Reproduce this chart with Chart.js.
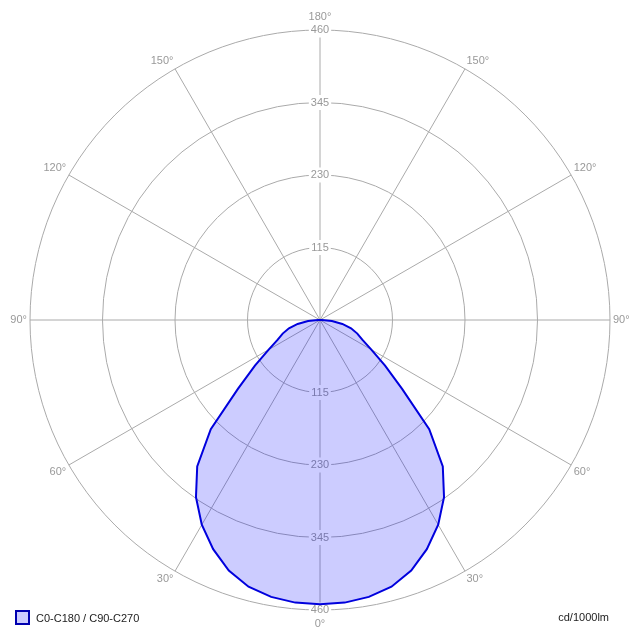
<!DOCTYPE html>
<html>
<head>
<meta charset="utf-8">
<title>Luminous intensity distribution</title>
<script src="https://cdn.jsdelivr.net/npm/chart.js@4.4.1/dist/chart.umd.min.js"></script>
<style>
  body { margin: 0; background: #fff; }
  #wrap { position: relative; width: 640px; height: 640px; font-family: "Liberation Sans", Arial, sans-serif; font-size: 11px; color: #222; }
  #legend { position: absolute; left: 15px; top: 610px; display: flex; align-items: center; line-height: 14px; }
  #legend .box { width: 11px; height: 11px; border: 2px solid #0000b0; background: #ccccff; margin-right: 6px; }
  #unit { position: absolute; right: 31px; top: 610px; line-height: 14px; }
</style>
</head>
<body>
<div id="wrap">
  <canvas id="polar" width="640" height="640"></canvas>
  <div id="legend"><span class="box"></span>C0-C180 / C90-C270</div>
  <div id="unit">cd/1000lm</div>
</div>
<script>
// gamma angles (deg) and intensity in cd/1000lm, same for C0-C180 and C90-C270
const gammaAngles = [0, 5, 10, 15, 20, 25, 30, 35, 40, 45, 50, 55, 60, 65, 70, 75, 80, 85, 90,
  95, 100, 105, 110, 115, 120, 125, 130, 135, 140, 145, 150, 155, 160, 165, 170, 175, 180];
const intensity = [451, 450, 446, 438, 423, 401, 375, 343, 303, 245, 170, 126, 94, 74, 63, 51, 36, 19, 3,
  0, 0, 0, 0, 0, 0, 0, 0, 0, 0, 0, 0, 0, 0, 0, 0, 0, 0];
const ringMax = 460;
const ringStep = 115;
const labelledAngles = [0, 30, 60, 90, 120, 150, 180];

// radar goes clockwise from the top: 180 at top, 0 at bottom, both halves mirrored
const radarAngles = [];
const radarValues = [];
for (let i = 0; i < 72; i++) {
  const g = i <= 36 ? 180 - i * 5 : i * 5 - 180;
  radarAngles.push(g);
  radarValues.push(intensity[gammaAngles.indexOf(g)]);
}

const fontStr = '11px "Liberation Sans", Arial, sans-serif';

// tick labels below the centre as well (drawn under the fill)
const mirrorTicks = {
  id: 'mirrorTicks',
  beforeDatasetsDraw(chart) {
    const r = chart.scales.r;
    const ctx = chart.ctx;
    ctx.save();
    ctx.font = fontStr;
    ctx.textAlign = 'center';
    ctx.textBaseline = 'middle';
    r.ticks.forEach((t, i) => {
      if (i === 0) return;
      const y = r.yCenter + r.getDistanceFromCenterForValue(t.value);
      const w = ctx.measureText(t.label).width;
      ctx.fillStyle = '#fff';
      ctx.fillRect(r.xCenter - w / 2 - 2, y - 7.5, w + 4, 15);
      ctx.fillStyle = '#999';
      ctx.fillText(t.label, r.xCenter, y);
    });
    ctx.restore();
  }
};

// angle labels just outside the outer ring
const angleLabels = {
  id: 'angleLabels',
  afterDraw(chart) {
    const r = chart.scales.r;
    const ctx = chart.ctx;
    ctx.save();
    ctx.font = fontStr;
    ctx.fillStyle = '#999';
    radarAngles.forEach((g, i) => {
      if (!labelledAngles.includes(g)) return;
      const vertical = g === 0 || g === 180;
      const p = r.getPointPosition(i, r.drawingArea + (vertical ? 8 : 3));
      const dx = p.x - r.xCenter;
      const dy = p.y - r.yCenter;
      ctx.textAlign = Math.abs(dx) < 1 ? 'center' : (dx > 0 ? 'left' : 'right');
      ctx.textBaseline = Math.abs(dy) < 1 ? 'middle' : (dy > 0 ? 'top' : 'bottom');
      ctx.fillText(g + '°', p.x, p.y);
    });
    ctx.restore();
  }
};

new Chart(document.getElementById('polar'), {
  type: 'radar',
  data: {
    labels: radarAngles,
    datasets: [{
      label: 'C0-C180 / C90-C270',
      data: radarValues,
      borderColor: '#0000dd',
      backgroundColor: 'rgba(0, 0, 255, 0.2)',
      borderWidth: 2,
      pointRadius: 0,
      tension: 0,
      fill: true
    }]
  },
  options: {
    responsive: false,
    animation: false,
    layout: { padding: 22.5 },
    plugins: { legend: { display: false }, tooltip: { enabled: false } },
    scales: {
      r: {
        min: 0,
        max: ringMax,
        grid: { circular: true, color: '#aaa' },
        angleLines: {
          color: '#aaa',
          lineWidth: (c) => labelledAngles.includes(radarAngles[c.index]) ? 1 : 0
        },
        ticks: {
          stepSize: ringStep,
          color: '#999',
          font: { family: '"Liberation Sans", Arial, sans-serif', size: 11 },
          backdropColor: '#fff'
        },
        pointLabels: { display: false }
      }
    }
  },
  plugins: [mirrorTicks, angleLabels]
});
</script>
</body>
</html>
